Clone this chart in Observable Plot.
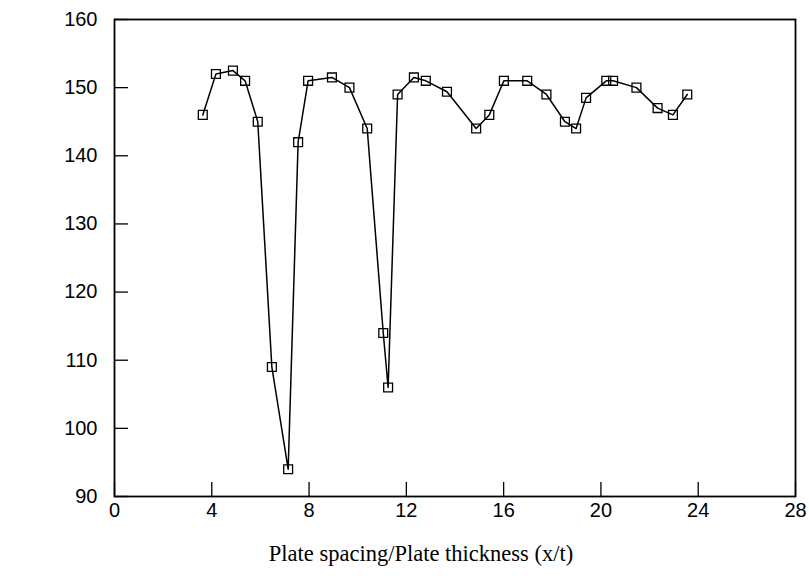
<!DOCTYPE html>
<html>
<head>
<meta charset="utf-8">
<script src="https://cdn.jsdelivr.net/npm/d3@7"></script>
<script src="https://cdn.jsdelivr.net/npm/@observablehq/plot@0.6"></script>
<style>
  html, body { margin: 0; padding: 0; background: #fff; }
</style>
</head>
<body>
<div id="chart"></div>
<script>
const ratio = [3.63, 4.17, 4.87, 5.37, 5.89, 6.47, 7.14, 7.55, 7.96, 8.94, 9.66, 10.39, 11.05, 11.25, 11.64, 12.31, 12.8, 13.67, 14.87, 15.41, 16.01, 16.97, 17.76, 18.52, 18.98, 19.39, 20.22, 20.5, 21.46, 22.33, 22.96, 23.55];
const value = [146, 152, 152.5, 151, 145, 109, 94, 142, 151, 151.5, 150, 144, 114, 106, 149, 151.5, 151, 149.4, 144, 146, 151, 151, 149, 145, 144, 148.5, 151, 151, 150, 147, 146, 149];
const xTicks = [0, 4, 8, 12, 16, 20, 24, 28];
const yTicks = [90, 100, 110, 120, 130, 140, 150, 160];
const xTitle = "Plate spacing/Plate thickness (x/t)";

const data = ratio.map((r, i) => ({x: r, y: value[i]}));

const chart = Plot.plot({
  width: 809,
  height: 579,
  marginLeft: 114,
  marginRight: 14,
  marginTop: 19,
  marginBottom: 83,
  style: {fontFamily: "'Liberation Sans', Arial, sans-serif", fontSize: "20px", color: "#000", background: "#fff"},
  x: {domain: [0, 28]},
  y: {domain: [90, 160]},
  marks: [
    Plot.frame({stroke: "#000", strokeWidth: 1.8}),
    Plot.axisX({ticks: xTicks, tickSize: 14, dy: -14, text: null, label: null, stroke: "#000", strokeWidth: 1.3}),
    Plot.axisX({ticks: xTicks, tickSize: 0, tickPadding: 6, label: null, fill: "#000", fontSize: 20}),
    Plot.axisY({ticks: yTicks, tickSize: 14, dx: 14, text: null, label: null, stroke: "#000", strokeWidth: 1.3}),
    Plot.axisY({ticks: yTicks, tickSize: 0, tickPadding: 17, label: null, fill: "#000", fontSize: 20}),
    Plot.line(data, {x: "x", y: "y", stroke: "#000", strokeWidth: 1.5}),
    Plot.dot(data, {x: "x", y: "y", symbol: "square", r: 5, stroke: "#000", strokeWidth: 1.3, fill: "none"}),
    Plot.text([xTitle], {frameAnchor: "bottom", dx: -34, dy: 64, text: d => d, fontFamily: "'Liberation Serif', 'Times New Roman', serif", fontSize: 22.5, fill: "#000"})
  ]
});
document.getElementById("chart").appendChild(chart);
</script>
</body>
</html>
